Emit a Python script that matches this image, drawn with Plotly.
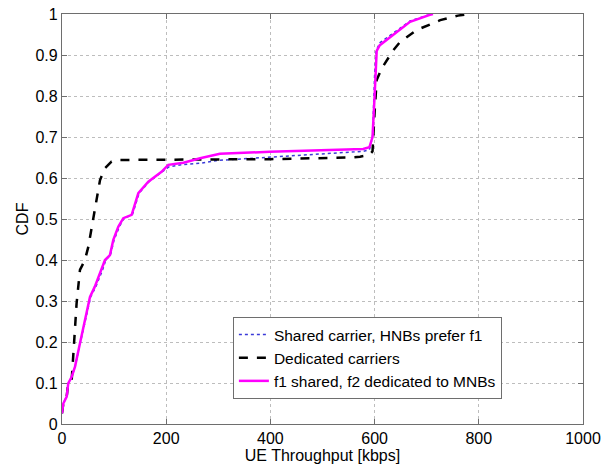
import plotly.graph_objects as go

# Shared carrier, HNBs prefer f1 (blue dotted)
shared_x = [0, 2.5, 9, 12, 18.6, 25, 35, 45, 55, 65, 78, 84, 93, 100, 110, 119, 135, 148, 167, 192, 205,
            233, 265, 300, 361, 457, 553, 578, 590, 596, 600, 603, 610, 634, 650, 668, 704, 712]
shared_y = [0.026, 0.05, 0.067, 0.099, 0.115, 0.14, 0.197, 0.254, 0.31, 0.335, 0.376, 0.40, 0.412, 0.449,
            0.481, 0.502, 0.51, 0.563, 0.591, 0.615, 0.627, 0.633, 0.636, 0.643, 0.648, 0.656, 0.664, 0.665,
            0.669, 0.70, 0.85, 0.91, 0.93, 0.952, 0.968, 0.983, 0.998, 1.0]

# Dedicated carriers (black dashed)
dedicated_x = [0, 2.5, 9, 12, 18.6, 21.8, 28, 34.5, 44, 50.5, 57, 63, 73, 82.5, 95, 105, 200, 400, 553,
               572, 590, 596, 600, 604, 614, 636, 649, 681, 726, 760, 780]
dedicated_y = [0.026, 0.05, 0.067, 0.099, 0.107, 0.18, 0.294, 0.376, 0.40, 0.432, 0.481, 0.53, 0.595, 0.624,
               0.640, 0.644, 0.645, 0.646, 0.650, 0.652, 0.656, 0.665, 0.76, 0.839, 0.868, 0.912, 0.932,
               0.961, 0.985, 0.996, 1.0]

# f1 shared, f2 dedicated to MNBs (magenta solid)
f1_x = [0, 2.5, 9, 12, 18.6, 25, 34.5, 44, 53.7, 63, 76, 82.5, 92, 98.5, 108, 117.7, 133.7, 146.5, 165.7,
        191, 204, 233, 265, 303, 399, 553, 578, 590, 596, 600, 604, 610, 636, 652, 668, 706, 712]
f1_y = [0.026, 0.05, 0.067, 0.099, 0.115, 0.14, 0.197, 0.254, 0.31, 0.335, 0.376, 0.40, 0.412, 0.449, 0.481,
        0.502, 0.51, 0.563, 0.591, 0.615, 0.632, 0.637, 0.648, 0.659, 0.664, 0.670, 0.671, 0.675, 0.70,
        0.80, 0.91, 0.924, 0.949, 0.965, 0.981, 0.998, 1.0]

x_ticks = [0, 200, 400, 600, 800, 1000]
y_ticks = [0, 0.1, 0.2, 0.3, 0.4, 0.5, 0.6, 0.7, 0.8, 0.9, 1]
y_tick_text = ["0", "0.1", "0.2", "0.3", "0.4", "0.5", "0.6", "0.7", "0.8", "0.9", "1"]

fig = go.Figure()
fig.add_trace(go.Scatter(x=shared_x, y=shared_y, mode="lines", name="Shared carrier, HNBs prefer f1",
                         line=dict(color="#3a3ad8", width=1.5, dash="dot")))
fig.add_trace(go.Scatter(x=dedicated_x, y=dedicated_y, mode="lines", name="Dedicated carriers",
                         line=dict(color="black", width=2.5, dash="dash")))
fig.add_trace(go.Scatter(x=f1_x, y=f1_y, mode="lines", name="f1 shared, f2 dedicated to MNBs",
                         line=dict(color="#ff00ff", width=2.5)))

font_family = "Liberation Sans, Arial, sans-serif"
axis_common = dict(showline=True, linecolor="#6e6e6e", linewidth=1.2, mirror="ticks",
                   ticks="inside", ticklen=5, tickcolor="#6e6e6e",
                   showgrid=True, gridcolor="#bdbdbd", griddash="dot", gridwidth=1,
                   zeroline=False, tickfont=dict(size=16, color="black", family=font_family))

fig.update_layout(
    width=613, height=468,
    margin=dict(l=62, r=30, t=14, b=44),
    plot_bgcolor="white", paper_bgcolor="white",
    font=dict(family=font_family, size=16, color="black"),
    xaxis=dict(range=[0, 1000], tickvals=x_ticks,
               title=dict(text="UE Throughput [kbps]", font=dict(size=16), standoff=2),
               automargin=False, **axis_common),
    yaxis=dict(range=[0, 1], tickvals=y_ticks, ticktext=y_tick_text,
               title=dict(text="CDF", font=dict(size=16), standoff=2),
               automargin=False, **axis_common),
    legend=dict(x=0.328, y=0.061, xanchor="left", yanchor="bottom",
                bgcolor="white", bordercolor="#6e6e6e", borderwidth=1,
                font=dict(size=15.5, family=font_family), tracegroupgap=0,
                itemwidth=30),
    showlegend=True,
)

fig.write_html("out.html")
